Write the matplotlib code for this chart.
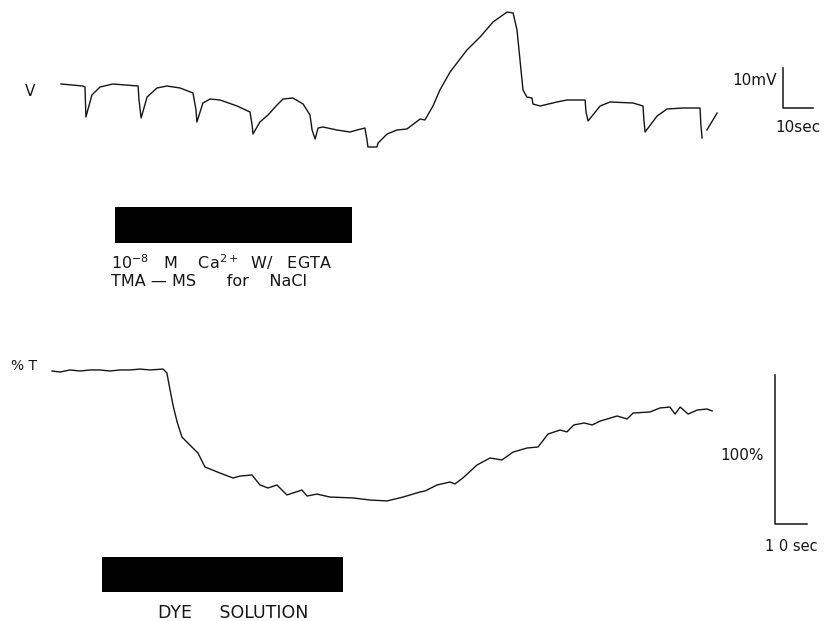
import numpy as np
import matplotlib
matplotlib.use("Agg")
import matplotlib.pyplot as plt

# ---------------- data ----------------
# Top trace: membrane potential (mV, relative to initial rest) vs time (s)
v_time = [0, 7.3, 8.0, 8.3, 10.3, 13.0, 17.3, 25.7, 26.0, 26.7, 28.7, 32.0, 35.3, 39.7,
          44.0, 45.0, 45.3, 47.3, 49.7, 53.0, 58.7, 63.0, 63.7, 64.0, 66.3, 69.0, 72.0,
          74.0, 77.3, 80.7, 83.0, 83.7, 84.7, 85.7, 87.3, 92.0, 96.3, 98.7, 101.3, 102.0,
          102.3, 105.3, 105.7, 108.7, 112.0, 115.3, 119.7, 121.3, 124.0, 126.3, 129.7,
          135.3, 139.7, 144.0, 148.7, 150.7, 152.0, 153.0, 154.0, 155.3, 157.0, 157.3,
          159.7, 165.3, 168.7, 174.7, 175.0, 175.7, 179.7, 183.0, 190.7, 194.0, 194.3,
          194.7, 198.7, 202.0, 207.3, 213.0, 213.3, 213.7, np.nan, 215.3, 218.7]
v_mV = [0, -0.5, -0.75, -8.25, -2.75, -0.75, 0, -0.5, -4, -8.5, -3.25, -1, -0.5, -1,
        -2.25, -6.5, -9.5, -4.75, -3.75, -4, -5.5, -7, -10.25, -12.5, -9.5, -7.75, -5.25,
        -3.75, -3.5, -5, -7.75, -11.5, -13.75, -11, -10.75, -11.5, -12, -11.5, -11, -14,
        -15.75, -15.75, -14.75, -12.5, -11.5, -11.25, -8.75, -9, -5.5, -1.5, 3,
        8.5, 11.75, 15.5, 18, 17.75, 13.5, 6, -1.5, -3.25, -3.5, -5,
        -5.5, -4.5, -4, -4, -7, -9.25, -5.5, -4.5, -4.75, -5.5, -9,
        -12, -8, -6.25, -6, -6, -10.25, -13.5, np.nan, -11.5, -7.25]

# Bottom trace: change in % transmission vs time (s)
t_time = [0, 2.5, 5.6, 8.8, 11.9, 15.0, 18.1, 21.3, 24.4, 27.5, 30.6, 34.7,
          35.9, 36.6, 37.8, 39.1, 40.6, 43.1, 45.6, 47.8, 52.5, 56.6, 58.8, 62.5,
          65.0, 67.5, 70.3, 73.4, 78.1, 79.7, 82.8, 86.9, 94.1, 99.4, 104.7, 109.7,
          115.0, 116.6, 120.3, 124.4, 125.9, 128.4, 132.8, 136.9, 140.6, 144.1, 148.4,
          151.9, 155.0, 158.8, 160.9, 163.1, 166.3, 168.8, 171.3, 176.6, 179.7, 181.6,
          186.9, 190.0, 193.1, 194.7, 196.3, 198.8, 201.6, 204.7, 206.3]
t_pct = [0, -0.7, 0.7, 0, 0.7, 0.7, 0, 0.7, 0.7, 1.3, 0.7, 1.3,
         -1.3, -9.4, -22.8, -34.2, -44.3, -49.7, -55.0, -64.4, -68.5, -71.8, -70.5, -69.8,
         -76.5, -78.5, -76.5, -83.2, -79.9, -83.9, -82.6, -84.6, -85.2, -86.6, -87.2, -84.6,
         -81.2, -80.5, -76.5, -74.5, -75.8, -71.8, -63.1, -58.4, -59.7, -54.4, -51.7,
         -51.0, -42.3, -39.6, -40.9, -36.2, -34.9, -36.2, -33.6, -30.2, -32.2, -28.2,
         -27.5, -24.8, -24.2, -28.9, -24.2, -28.9, -26.2, -25.5, -26.8]

# Stimulus periods (s)
stim1 = (18.0, 97.0)
stim2 = (15.6, 90.9)
stim1_labels = [r"10$^{-8}$   M    Ca$^{2+}$  W/   EGTA", "TMA \u2014 MS      for    NaCl"]
stim2_label = "DYE     SOLUTION"

# Scale bars
v_scale_mV, v_scale_s = 10, 10
t_scale_pct, t_scale_s = 100, 10

# ---------------- figure ----------------
W, H = 829, 621
fig = plt.figure(figsize=(W / 100, H / 100), dpi=100)
ink = "#151515"

# top axes: 3 px/s, 4 px/mV, origin (61, 84) px
axT = fig.add_axes([0, 0, 1, 1])
axT.set_xlim(-61 / 3, (W - 61) / 3)
axT.set_ylim((84 - H) / 4, 84 / 4)
axT.axis("off")

# bottom axes: 3.2 px/s, 1.49 px/%, origin (52, 371) px
axB = fig.add_axes([0, 0, 1, 1])
axB.set_xlim(-52 / 3.2, (W - 52) / 3.2)
axB.set_ylim((371 - H) / 1.49, 371 / 1.49)
axB.axis("off")

axT.plot(v_time, v_mV, color=ink, lw=1.0, solid_joinstyle="round")
axB.plot(t_time, t_pct, color=ink, lw=1.0, solid_joinstyle="round")

fs = 11
axT.text(-10.3, -2.0, "V", ha="center", va="center", fontsize=fs, color=ink)
axB.text(-8.6, 3.4, "% T", ha="center", va="center", fontsize=fs - 1, color=ink)

# stimulus bars
axT.barh(-35.25, stim1[1] - stim1[0], left=stim1[0], height=9, color="black")
axT.text(stim1[0] - 1.3, -44.5, stim1_labels[0], ha="left", va="center",
         fontsize=11.5, color=ink)
axT.text(stim1[0] - 1.3, -49.5, stim1_labels[1], ha="left", va="center",
         fontsize=11.5, color=ink)

axB.barh(-136.6, stim2[1] - stim2[0], left=stim2[0], height=23.5, color="black")
axB.text(56.5, -162.5, stim2_label, ha="center",
         va="center", fontsize=12.5, color=ink)

# scale bars top
x0, y0 = 240.7, -6.0
axT.plot([x0, x0, x0 + v_scale_s], [y0 + v_scale_mV, y0, y0], color=ink, lw=1.1)
axT.text(x0 - 2.0, y0 + 6.8, "10mV", ha="right", va="center", fontsize=fs, color=ink)
axT.text(x0 - 2.7, y0 - 5.0, "10sec", ha="left", va="center", fontsize=fs, color=ink)

# scale bars bottom
x1, y1 = 225.9, -102.7
axB.plot([x1, x1, x1 + t_scale_s], [y1 + t_scale_pct, y1, y1], color=ink, lw=1.1)
axB.text(x1 - 3.5, -56.5, "100%", ha="right", va="center", fontsize=fs, color=ink)
axB.text(x1 - 3.0, -117.5, "1 0 sec", ha="left", va="center", fontsize=fs - 0.5, color=ink)

fig.savefig("out.png", dpi=100, facecolor="white")
